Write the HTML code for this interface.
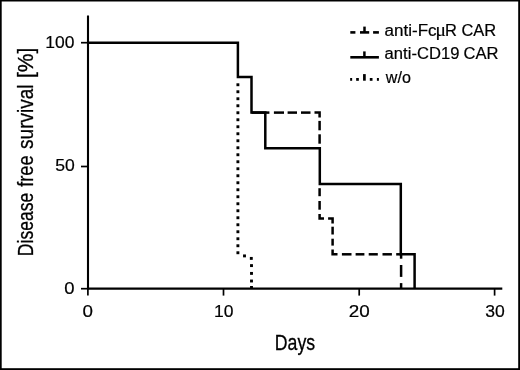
<!DOCTYPE html>
<html>
<head>
<meta charset="utf-8">
<title>Disease free survival</title>
<style>
html,body{margin:0;padding:0;background:#fff;}
body{width:520px;height:370px;overflow:hidden;}
svg{display:block;}
text{font-family:"Liberation Sans",sans-serif;fill:#000;}
.mu{font-family:"Liberation Serif",serif;}
</style>
</head>
<body>
<svg width="520" height="370" viewBox="0 0 520 370">
  <rect x="0" y="0" width="520" height="370" fill="#fff"/>
  <!-- outer frame -->
  <rect x="0" y="0" width="520" height="1.5" fill="#000"/>
  <rect x="0" y="368.2" width="520" height="1.8" fill="#000"/>
  <rect x="0" y="0" width="1.7" height="370" fill="#000"/>
  <rect x="518.2" y="0" width="1.8" height="370" fill="#000"/>

  <defs><filter id="soft" x="0" y="0" width="520" height="370" filterUnits="userSpaceOnUse"><feGaussianBlur stdDeviation="0.35"/></filter></defs>
  <g filter="url(#soft)">
  <!-- axes -->
  <g stroke="#000" fill="none">
    <line x1="88" y1="15.4" x2="88" y2="289.4" stroke-width="2.1"/>
    <line x1="87" y1="288.7" x2="502.3" y2="288.7" stroke-width="2.3"/>
    <!-- y ticks -->
    <line x1="81" y1="42.7" x2="88" y2="42.7" stroke-width="1.7"/>
    <line x1="81" y1="166.5" x2="88" y2="166.5" stroke-width="1.7"/>
    <line x1="81" y1="288.7" x2="88" y2="288.7" stroke-width="1.7"/>
    <!-- x ticks -->
    <line x1="87.9" y1="288" x2="87.9" y2="295.6" stroke-width="1.7"/>
    <line x1="223.5" y1="288" x2="223.5" y2="295.6" stroke-width="1.7"/>
    <line x1="359.2" y1="288" x2="359.2" y2="295.6" stroke-width="1.7"/>
    <line x1="494.6" y1="288" x2="494.6" y2="295.6" stroke-width="1.7"/>
  </g>

  <!-- dotted curve (w/o) -->
  <g fill="#000" id="dots">
    <rect x="236.45" y="83.30" width="2.9" height="2.9"/>
    <rect x="236.45" y="90.30" width="2.9" height="2.9"/>
    <rect x="236.45" y="97.30" width="2.9" height="2.9"/>
    <rect x="236.45" y="104.30" width="2.9" height="2.9"/>
    <rect x="236.45" y="111.30" width="2.9" height="2.9"/>
    <rect x="236.45" y="118.30" width="2.9" height="2.9"/>
    <rect x="236.45" y="125.30" width="2.9" height="2.9"/>
    <rect x="236.45" y="132.30" width="2.9" height="2.9"/>
    <rect x="236.45" y="139.30" width="2.9" height="2.9"/>
    <rect x="236.45" y="146.30" width="2.9" height="2.9"/>
    <rect x="236.45" y="153.30" width="2.9" height="2.9"/>
    <rect x="236.45" y="160.30" width="2.9" height="2.9"/>
    <rect x="236.45" y="167.30" width="2.9" height="2.9"/>
    <rect x="236.45" y="174.30" width="2.9" height="2.9"/>
    <rect x="236.45" y="181.30" width="2.9" height="2.9"/>
    <rect x="236.45" y="188.30" width="2.9" height="2.9"/>
    <rect x="236.45" y="195.30" width="2.9" height="2.9"/>
    <rect x="236.45" y="202.30" width="2.9" height="2.9"/>
    <rect x="236.45" y="209.30" width="2.9" height="2.9"/>
    <rect x="236.45" y="216.30" width="2.9" height="2.9"/>
    <rect x="236.45" y="223.30" width="2.9" height="2.9"/>
    <rect x="236.45" y="230.30" width="2.9" height="2.9"/>
    <rect x="236.45" y="237.30" width="2.9" height="2.9"/>
    <rect x="236.45" y="244.30" width="2.9" height="2.9"/>
    <rect x="236.45" y="251.30" width="2.9" height="2.9"/>
    <rect x="243.05" y="254.45" width="2.9" height="2.9"/>
    <rect x="249.85" y="256.95" width="2.9" height="2.9"/>
    <rect x="250.05" y="264.15" width="2.9" height="2.9"/>
    <rect x="250.05" y="271.95" width="2.9" height="2.9"/>
    <rect x="250.05" y="279.55" width="2.9" height="2.9"/>
    <rect x="250.05" y="286.00" width="2.9" height="2.9"/>
  </g>

  <!-- dashed curve (anti-FcµR CAR) -->
  <g stroke="#000" fill="none" stroke-width="2.5">
    <path d="M273.9 112.6H284"/>
    <path d="M287.6 112.6H297"/>
    <path d="M301 112.6H310.5"/>
    <path d="M314.5 112.6H319.6V117.5"/>
    <path d="M319.6 120.9V130.3"/>
    <path d="M319.6 134.3V143.7"/>
    <path d="M319.6 188.2V196.2"/>
    <path d="M319.6 201V209.7"/>
    <path d="M319.6 214V218.5H324"/>
    <path d="M328.1 218.5H332.6V223.5"/>
    <path d="M332.6 226.7V234.5"/>
    <path d="M332.6 238.7V245.6"/>
    <path d="M332.6 249.4V254.3H337.5"/>
    <path d="M341.9 254.3H351.5"/>
    <path d="M355.6 254.3H364.4"/>
    <path d="M368.7 254.3H377.8"/>
    <path d="M382.5 254.3H391.9"/>
    <path d="M396.2 254.3H401"/>
    <path d="M401.1 254V258.7"/>
    <path d="M401.1 265V276.9"/>
    <path d="M401.1 283.1V288"/>
  </g>

  <!-- solid curve (anti-CD19 CAR) -->
  <path d="M88 42.65H237.9V76.9H251.5V112.6H265.3V148.2H319.8V184.1H400.8V254.2H414.6V288.4" stroke="#000" stroke-width="2.5" fill="none" stroke-linejoin="miter"/>
  <path d="M251.5 112.6H269.4" stroke="#000" stroke-width="2.5" fill="none"/>

  <!-- legend -->
  <g stroke="#000" fill="none" stroke-width="2.6">
    <path d="M350.3 32.4H355.4"/>
    <path d="M360 32.4H369.2"/>
    <path d="M373.1 32.4H378.9"/>
    <path d="M364.5 26.6V32.4" stroke-width="2.5"/>
    <path d="M350.3 57.3H378.9"/>
    <path d="M364.4 51.4V57.3" stroke-width="2.5"/>
  </g>
  <g fill="#000" id="legdots">
    <rect x="350.15" y="78.00" width="2.0" height="2.8"/>
    <rect x="356.15" y="78.00" width="2.7" height="2.8"/>
    <rect x="369.80" y="78.00" width="2.7" height="2.8"/>
    <rect x="376.90" y="78.00" width="2.0" height="2.8"/>
    <rect x="363.05" y="74.1" width="2.7" height="6.6"/>
  </g>

  <!-- tick labels -->
  <g stroke="#000" stroke-width="0.2">
    <text x="45.25" y="47.8" font-size="16.4" textLength="29.14" lengthAdjust="spacingAndGlyphs">100</text>
    <text x="55.25" y="171.4" font-size="16.4" textLength="19.53" lengthAdjust="spacingAndGlyphs">50</text>
    <text x="64.38" y="293.65" font-size="16.4" textLength="10.29" lengthAdjust="spacingAndGlyphs">0</text>
    <text x="82.5" y="317" font-size="16.7" textLength="10.45" lengthAdjust="spacingAndGlyphs">0</text>
    <text x="214.13" y="317" font-size="16.7" textLength="19.46" lengthAdjust="spacingAndGlyphs">10</text>
    <text x="348.75" y="317" font-size="16.7" textLength="20.98" lengthAdjust="spacingAndGlyphs">20</text>
    <text x="485.25" y="317" font-size="16.7" textLength="19.55" lengthAdjust="spacingAndGlyphs">30</text>
  </g>

  <!-- legend labels -->
  <g font-size="15.8" stroke="#000" stroke-width="0.2">
    <text y="35.5"><tspan x="384.62" textLength="52.02" lengthAdjust="spacingAndGlyphs">anti-Fc</tspan><tspan x="435.5" class="mu" font-size="18.4" textLength="10.41" lengthAdjust="spacingAndGlyphs">μ</tspan><tspan x="445" textLength="51.22" lengthAdjust="spacingAndGlyphs">R CAR</tspan></text>
    <text y="59.3"><tspan x="384.62" textLength="74.77" lengthAdjust="spacingAndGlyphs">anti-CD19</tspan> <tspan x="463.62" textLength="34.98" lengthAdjust="spacingAndGlyphs">CAR</tspan></text>
    <text x="385.88" y="83.3" textLength="25.03" lengthAdjust="spacingAndGlyphs">w/o</text>
  </g>

  <!-- axis titles -->
  <g font-size="22.4" stroke="#000" stroke-width="0.3">
    <text x="274.75" y="349.5" textLength="40.37" lengthAdjust="spacingAndGlyphs">Days</text>
    <text transform="translate(33.4 256.13) rotate(-90)" y="0"><tspan x="0" textLength="63.31" lengthAdjust="spacingAndGlyphs">Disease</tspan> <tspan x="69.38" textLength="31.39" lengthAdjust="spacingAndGlyphs">free</tspan> <tspan x="107.26" textLength="64.41" lengthAdjust="spacingAndGlyphs">survival</tspan> <tspan x="178.13" textLength="30.35" lengthAdjust="spacingAndGlyphs">[%]</tspan></text>
  </g>
  </g>
</svg>
</body>
</html>
